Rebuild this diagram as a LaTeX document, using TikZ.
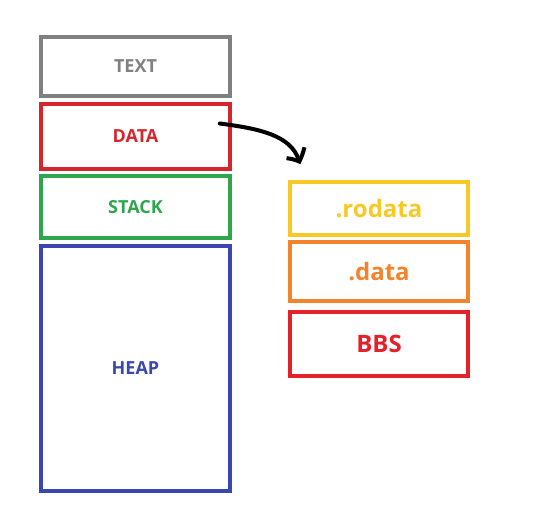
\documentclass[tikz,border=0pt]{standalone}
\usepackage{fontspec}
\setmainfont{Open Sans}
\usetikzlibrary{arrows.meta}
\usetikzlibrary{bending}
\definecolor{textgray}{RGB}{128,128,128}
\definecolor{datared}{RGB}{214,38,44}
\definecolor{stackgreen}{RGB}{46,166,76}
\definecolor{heapblue}{RGB}{58,70,178}
\definecolor{royellow}{RGB}{250,200,36}
\definecolor{dataorange}{RGB}{244,132,44}
\definecolor{bbsred}{RGB}{228,32,40}
\tikzset{
  segment/.style={draw=#1, text=#1, line width=3.5pt, rectangle,
    inner sep=0pt, font=\bfseries\fontsize{18}{21}\selectfont},
  section/.style={segment=#1, minimum width=178pt,
    font=\bfseries\fontsize{24}{27}\selectfont}
}

\begin{document}
\begin{tikzpicture}[x=1pt,y=-1pt]
\useasboundingbox (0,0) rectangle (549,519);
% memory layout
\node[segment=textgray, minimum width=189pt, minimum height=59pt] (text) at (135.5,66.5) {TEXT};
\node[segment=datared, minimum width=189pt, minimum height=65pt] (data) at (135.5,136.5) {DATA};
\node[segment=stackgreen, minimum width=189pt, minimum height=62pt] (stack) at (135.5,207) {STACK};
\node[segment=heapblue, minimum width=189pt, minimum height=245pt] (heap) at (135.5,368.5) {HEAP};
% data sections
\node[section=royellow, minimum height=53pt] (rodata) at (379,208.5) {.rodata};
\node[section=dataorange, minimum height=59pt] (dotdata) at (379,271.5) {.data};
\node[section=bbsred, minimum height=64pt] (bbs) at (379,344) {BBS};
% arrow
\coordinate (from) at ([xshift=-12pt,yshift=13pt]data.east);
\coordinate (to) at ([xshift=-79pt,yshift=16pt]rodata.north);
\draw[line width=4pt, line cap=round,
  -{Straight Barb[bend, length=10pt, width=21pt]}]
  (from) .. controls (262,129) and (294,136) .. (to);
\end{tikzpicture}
\end{document}
